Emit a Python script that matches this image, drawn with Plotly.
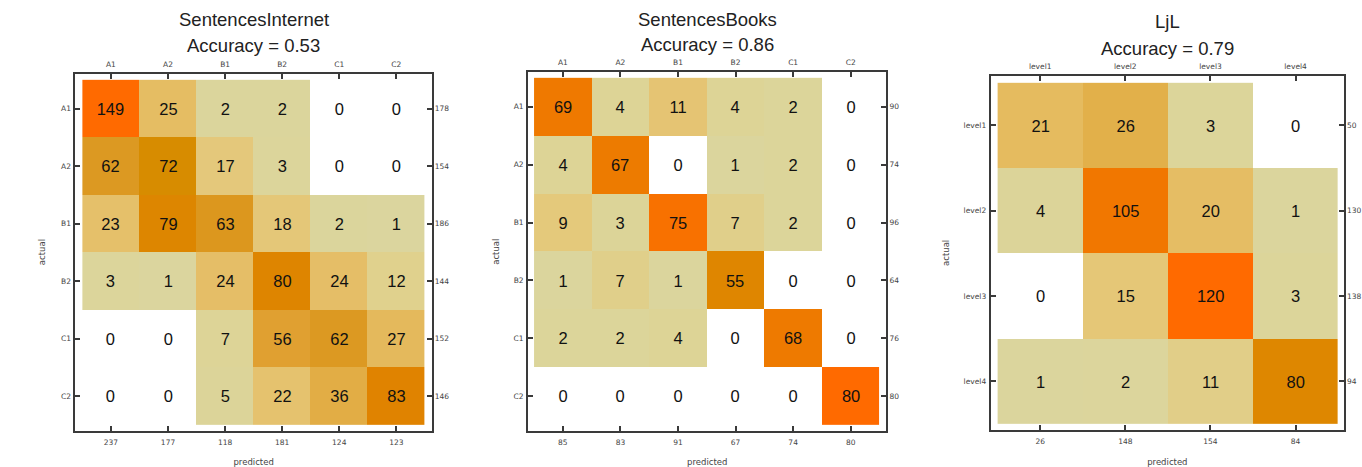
import numpy as np
import plotly.graph_objects as go

# Confusion matrices (rows = actual, columns = predicted)
cefr_labels = ["A1", "A2", "B1", "B2", "C1", "C2"]
level_labels = ["level1", "level2", "level3", "level4"]

internet_counts = [
    [149, 25, 2, 2, 0, 0],
    [62, 72, 17, 3, 0, 0],
    [23, 79, 63, 18, 2, 1],
    [3, 1, 24, 80, 24, 12],
    [0, 0, 7, 56, 62, 27],
    [0, 0, 5, 22, 36, 83],
]
books_counts = [
    [69, 4, 11, 4, 2, 0],
    [4, 67, 0, 1, 2, 0],
    [9, 3, 75, 7, 2, 0],
    [1, 7, 1, 55, 0, 0],
    [2, 2, 4, 0, 68, 0],
    [0, 0, 0, 0, 0, 80],
]
ljl_counts = [
    [21, 26, 3, 0],
    [4, 105, 20, 1],
    [0, 15, 120, 3],
    [1, 2, 11, 80],
]

panels = [
    ("SentencesInternet", cefr_labels, internet_counts),
    ("SentencesBooks", cefr_labels, books_counts),
    ("LjL", level_labels, ljl_counts),
]

W, H = 1362, 467

# frame box and cell block of each panel, in pixels (left, right, top, bottom)
frames = [(76, 435, 74, 432), (532, 893, 72, 432), (998, 1354, 76, 431)]
cells = [(83, 428, 80, 426), (538, 886, 78, 426), (1005, 1348, 83, 425)]
title_y = [(20, 46), (20, 45), (22, 49)]
actual_x = [43, 500, 953]

colorscale = [
    [0.0, "rgb(255,255,255)"],
    [0.003, "rgb(255,255,255)"],
    [0.004, "rgb(219,213,158)"],
    [0.05, "rgb(221,212,150)"],
    [0.085, "rgb(224,208,140)"],
    [0.11, "rgb(228,201,124)"],
    [0.14, "rgb(229,196,114)"],
    [0.17, "rgb(229,188,98)"],
    [0.22, "rgb(226,175,72)"],
    [0.38, "rgb(224,160,48)"],
    [0.42, "rgb(220,152,32)"],
    [0.48, "rgb(215,140,0)"],
    [0.55, "rgb(224,131,0)"],
    [0.68, "rgb(222,135,0)"],
    [0.85, "rgb(238,122,0)"],
    [1.0, "rgb(255,106,0)"],
]


def fx(px):
    return px / W


def fy(py):
    return 1 - py / H


fig = go.Figure()
layout = dict(
    width=W, height=H, margin=dict(l=0, r=0, t=0, b=0),
    paper_bgcolor="white", plot_bgcolor="white",
    font=dict(family="Liberation Sans, Arial, sans-serif", color="#222"),
    showlegend=False,
)
annotations = []
tick_font = dict(family="DejaVu Sans", size=7.5, color="#444")
label_font = dict(family="DejaVu Sans", size=8.5, color="#444")
line_color = "#3a3a3a"

for i, (name, labels, counts) in enumerate(panels):
    k = i + 1
    m = np.array(counts)
    n = len(labels)
    row_tot = m.sum(axis=1)
    col_tot = m.sum(axis=0)
    acc = np.trace(m) / m.sum()

    fl, fr, ft, fb = frames[i]
    cl, cr, ct, cb = cells[i]
    cw = (cr - cl) / n
    ch = (cb - ct) / n
    xr = [-0.5 - (cl - fl) / cw, n - 0.5 + (fr - cr) / cw]
    yr = [n - 0.5 + (fb - cb) / ch, -0.5 - (ct - ft) / ch]
    xdom = [fx(fl), fx(fr)]
    ydom = [fy(fb), fy(ft)]

    xa = f"x{k}" if k > 1 else "x"
    ya = f"y{k}" if k > 1 else "y"
    xo = k + 3
    yo = k + 3

    fig.add_trace(go.Heatmap(
        z=m, x=list(range(n)), y=list(range(n)),
        xaxis=xa, yaxis=ya,
        zmin=0, zmax=int(m.max()), colorscale=colorscale, showscale=False,
        texttemplate="%{z}", textfont=dict(size=16.5, color="#111"),
        hoverinfo="skip",
    ))
    # empty trace carrying the top / right label axes
    fig.add_trace(go.Scatter(x=[], y=[], xaxis=f"x{xo}", yaxis=f"y{yo}",
                             hoverinfo="skip", showlegend=False))

    common = dict(showgrid=False, zeroline=False, tickfont=tick_font)
    layout[f"xaxis{k if k > 1 else ''}"] = dict(
        domain=xdom, range=xr, anchor=ya,
        tickmode="array", tickvals=list(range(n)),
        ticktext=[str(v) for v in col_tot],
        ticks="inside", ticklen=5, tickwidth=1.5, tickcolor=line_color,
        showline=True, linecolor=line_color, linewidth=2, mirror="allticks",
        ticklabelstandoff=3,
        title=dict(text="predicted", font=label_font, standoff=14),
        **common,
    )
    layout[f"yaxis{k if k > 1 else ''}"] = dict(
        domain=ydom, range=yr, anchor=xa,
        tickmode="array", tickvals=list(range(n)), ticktext=labels,
        ticks="inside", ticklen=5, tickwidth=1.5, tickcolor=line_color,
        showline=True, linecolor=line_color, linewidth=2, mirror="allticks",
        ticklabelstandoff=1,
        **common,
    )
    layout[f"xaxis{xo}"] = dict(
        overlaying=xa, side="top", anchor=ya, range=xr,
        tickmode="array", tickvals=list(range(n)), ticktext=labels,
        ticks="", showline=False, ticklabelstandoff=4, **common,
    )
    layout[f"yaxis{yo}"] = dict(
        overlaying=ya, side="right", anchor=xa, range=yr,
        tickmode="array", tickvals=list(range(n)),
        ticktext=[str(v) for v in row_tot],
        ticks="", showline=False, ticklabelstandoff=2, **common,
    )

    cx = fx((fl + fr) / 2)
    t1, t2 = title_y[i]
    annotations.append(dict(text=name, x=cx, y=fy(t1), xref="paper", yref="paper",
                            showarrow=False, xanchor="center", yanchor="middle",
                            font=dict(size=18.5, color="#222")))
    annotations.append(dict(text=f"Accuracy = {acc:.2f}", x=cx, y=fy(t2),
                            xref="paper", yref="paper", showarrow=False,
                            xanchor="center", yanchor="middle",
                            font=dict(size=18.5, color="#222")))
    annotations.append(dict(text="actual", x=fx(actual_x[i]), y=fy((fb + ft) / 2),
                            xref="paper", yref="paper", showarrow=False,
                            textangle=-90, xanchor="center", yanchor="middle",
                            font=label_font))

layout["annotations"] = annotations
fig.update_layout(**layout)
fig.write_html("out.html")
